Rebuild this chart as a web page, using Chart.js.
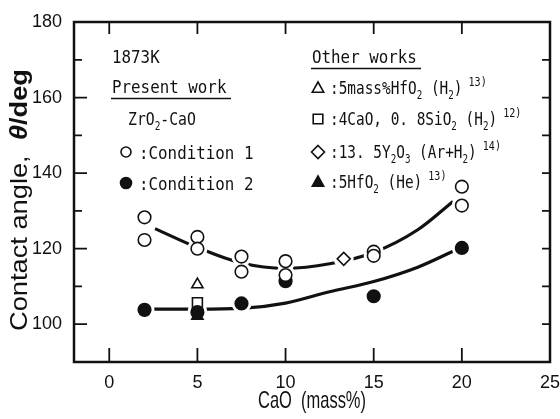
<!DOCTYPE html>
<html><head><meta charset="utf-8">
<script src="https://cdn.jsdelivr.net/npm/chart.js@4/dist/chart.umd.min.js"></script>
<style>html,body{margin:0;padding:0;background:#fff}</style>
</head><body>
<canvas id="c" width="560" height="419" style="width:560px;height:419px;display:block"></canvas>
<script>
// ---- data ----
const xTicks = [0, 5, 10, 15, 20, 25];
const yTicks = [100, 120, 140, 160, 180];
const yAllTicks = [100, 110, 120, 130, 140, 150, 160, 170];
const xMarkTicks = [0, 5, 10, 15, 20];

const cond1X = [2, 2, 5, 5, 7.5, 7.5, 10, 10, 15, 15, 20, 20];
const cond1Y = [128.3, 122.3, 123.1, 120.0, 117.9, 113.9, 116.7, 113.0, 119.2, 118.1, 136.4, 131.4];
const cond2X = [2, 5, 7.5, 10, 15, 20];
const cond2Y = [103.8, 103.2, 105.5, 111.4, 107.4, 120.2];
const hfo2H2X = [5], hfo2H2Y = [110.5];
const caoSio2X = [5], caoSio2Y = [105.7];
const y2o3X = [13.3], y2o3Y = [117.3];
const hfo2HeX = [5], hfo2HeY = [102.2];

const upperCurveX = [2.6, 5, 7.5, 10, 12.5, 15, 17.5, 19.5];
const upperCurveY = [125.3, 120.3, 116.2, 114.8, 116.0, 119.0, 125.0, 132.5];
const lowerCurveX = [2.5, 5, 7.5, 10, 12.5, 15, 17.5, 19.5];
const lowerCurveY = [104.0, 104.0, 104.2, 105.6, 108.6, 111.3, 115.1, 119.3];

const pts = (xs, ys) => xs.map((x, i) => ({x, y: ys[i]}));
const allMarkers = [].concat(pts(cond1X, cond1Y), pts(cond2X, cond2Y), pts(hfo2H2X, hfo2H2Y),
  pts(caoSio2X, caoSio2Y), pts(y2o3X, y2o3Y), pts(hfo2HeX, hfo2HeY));

const MONO = "'DejaVu Sans Mono',monospace";
const SANS = "'Liberation Sans','DejaVu Sans',sans-serif";
const INK = '#111';

function marker(style, fill, r) {
  return {showLine: false, pointStyle: style, pointRadius: r, pointHoverRadius: r,
    pointBackgroundColor: fill ? INK : '#fff', pointBorderColor: INK, pointBorderWidth: 1.6,
    borderColor: INK, backgroundColor: INK, order: 0};
}

function rich(ctx, segs, x, y, size, sx, font) {
  ctx.save(); ctx.translate(x, y); ctx.scale(sx, 1);
  let cx = 0;
  for (const s of segs) {
    let fs = size, dy = 0;
    if (s.v === 'sub') { fs = size * 0.64; dy = size * 0.28; }
    else if (s.v === 'sup') { fs = size * 0.7; dy = -size * 0.42; }
    ctx.font = (s.st || '') + ' ' + fs + 'px ' + (s.f || font || MONO);
    ctx.fillText(s.t, cx, dy);
    cx += ctx.measureText(s.t).width;
  }
  ctx.restore();
}
function richWidth(ctx, segs, size, font) {
  let w = 0;
  for (const s of segs) {
    const fs = s.v === 'sub' ? size * 0.64 : s.v === 'sup' ? size * 0.7 : size;
    ctx.font = (s.st || '') + ' ' + fs + 'px ' + (s.f || font || MONO);
    w += ctx.measureText(s.t).width;
  }
  return w;
}
function drawSym(ctx, type, x, y, r, fill) {
  ctx.save(); ctx.beginPath(); ctx.lineWidth = 1.6; ctx.strokeStyle = INK; ctx.fillStyle = fill ? INK : '#fff';
  if (type === 'circle') ctx.arc(x, y, r, 0, Math.PI * 2);
  else if (type === 'triangle') { ctx.moveTo(x, y - r); ctx.lineTo(x + r * 0.95, y + r * 0.7); ctx.lineTo(x - r * 0.95, y + r * 0.7); ctx.closePath(); }
  else if (type === 'rect') ctx.rect(x - r * 0.8, y - r * 0.8, r * 1.6, r * 1.6);
  else if (type === 'diamond') { ctx.moveTo(x, y - r); ctx.lineTo(x + r, y); ctx.lineTo(x, y + r); ctx.lineTo(x - r, y); ctx.closePath(); }
  ctx.fill(); ctx.stroke(); ctx.restore();
}

const decor = {
  id: 'decor',
  beforeDatasetsDraw(chart) {
    const {ctx, chartArea: a, scales: {x, y}} = chart;
    ctx.save();
    ctx.strokeStyle = INK; ctx.lineWidth = 2.5;
    ctx.strokeRect(a.left, a.top, a.right - a.left, a.bottom - a.top);
    ctx.lineWidth = 1.8;
    ctx.beginPath();
    for (const v of yAllTicks) {
      const py = y.getPixelForValue(v);
      const len = yTicks.includes(v) ? 13 : 8;
      ctx.moveTo(a.left, py); ctx.lineTo(a.left + len, py);
      ctx.moveTo(a.right, py); ctx.lineTo(a.right - 8, py);
    }
    for (const v of xMarkTicks) {
      const px = x.getPixelForValue(v);
      ctx.moveTo(px, a.bottom); ctx.lineTo(px, a.bottom - 14);
      ctx.moveTo(px, a.top); ctx.lineTo(px, a.top + 12);
    }
    ctx.stroke();
    ctx.restore();
  },
  afterDraw(chart) {
    const {ctx, chartArea: a} = chart;
    ctx.save();
    ctx.fillStyle = INK; ctx.strokeStyle = INK; ctx.textBaseline = 'alphabetic';
    const S = 18, SX = 0.88;
    // left block
    rich(ctx, [{t: '1873K'}], 112, 63, S, SX);
    rich(ctx, [{t: 'Present work'}], 112, 93, S, SX);
    ctx.lineWidth = 1.6; ctx.beginPath(); ctx.moveTo(111, 98.5); ctx.lineTo(231, 98.5); ctx.stroke();
    rich(ctx, [{t: 'ZrO'}, {t: '2', v: 'sub'}, {t: '-CaO'}], 128, 125, S, 0.82);
    drawSym(ctx, 'circle', 126, 152, 5, false);
    rich(ctx, [{t: ':Condition 1'}], 139, 158.5, S, SX);
    drawSym(ctx, 'circle', 126, 183, 5.5, true);
    rich(ctx, [{t: ':Condition 2'}], 139, 189.5, S, SX);
    // right block
    rich(ctx, [{t: 'Other works'}], 312, 63, S, SX);
    ctx.beginPath(); ctx.moveTo(311, 68.5); ctx.lineTo(421, 68.5); ctx.stroke();
    const RX = 0.8;
    drawSym(ctx, 'triangle', 318, 88, 6, false);
    rich(ctx, [{t: ':5mass%HfO'}, {t: '2', v: 'sub'}, {t: ' (H'}, {t: '2', v: 'sub'}, {t: ')'}, {t: ' 13)', v: 'sup'}], 330, 94, S, RX);
    drawSym(ctx, 'rect', 318, 119, 6, false);
    rich(ctx, [{t: ':4CaO, 0. 8SiO'}, {t: '2', v: 'sub'}, {t: ' (H'}, {t: '2', v: 'sub'}, {t: ')'}, {t: ' 12)', v: 'sup'}], 330, 125, S, RX);
    drawSym(ctx, 'diamond', 318, 152, 6.5, false);
    rich(ctx, [{t: ':13. 5Y'}, {t: '2', v: 'sub'}, {t: 'O'}, {t: '3', v: 'sub'}, {t: ' (Ar+H'}, {t: '2', v: 'sub'}, {t: ')'}, {t: ' 14)', v: 'sup'}], 330, 158, S, RX);
    drawSym(ctx, 'triangle', 318, 182, 6, true);
    rich(ctx, [{t: ':5HfO'}, {t: '2', v: 'sub'}, {t: ' (He)'}, {t: ' 13)', v: 'sup'}], 330, 188, S, RX);

    // x title
    const xt = [{t: 'CaO  (mass%)'}];
    const xs = 24;
    const xw = richWidth(ctx, xt, xs, SANS);
    rich(ctx, xt, (a.left + a.right) / 2 - 54, 408, xs, 108 / xw, SANS);

    // y title (rotated)
    const yt = [{t: 'Contact angle,  ', f: SANS}, {t: 'θ', st: 'italic bold', f: SANS}, {t: '/deg', st: 'bold', f: SANS}];
    const ys = 24;
    const yw = richWidth(ctx, yt, ys, SANS);
    ctx.save();
    ctx.translate(27, 331);
    ctx.rotate(-Math.PI / 2);
    rich(ctx, yt, 0, 0, ys, 262 / yw, SANS);
    ctx.restore();
    ctx.restore();
  }
};

new Chart(document.getElementById('c'), {
  type: 'line',
  data: {
    datasets: [
      Object.assign({label: 'Condition 1', data: pts(cond1X, cond1Y)}, marker('circle', false, 6.3)),
      Object.assign({label: 'Condition 2', data: pts(cond2X, cond2Y)}, marker('circle', true, 6.3)),
      Object.assign({label: '5mass%HfO2 (H2)', data: pts(hfo2H2X, hfo2H2Y)}, marker('triangle', false, 6.5)),
      Object.assign({label: '4CaO, 0.8SiO2 (H2)', data: pts(caoSio2X, caoSio2Y)}, marker('rect', false, 7)),
      Object.assign({label: '13.5Y2O3 (Ar+H2)', data: pts(y2o3X, y2o3Y)}, marker('rectRot', false, 6.5)),
      Object.assign({label: '5HfO2 (He)', data: pts(hfo2HeX, hfo2HeY)}, marker('triangle', true, 6.5)),
      {label: 'halo', data: allMarkers, showLine: false, pointRadius: 10, pointHoverRadius: 10,
        pointBackgroundColor: '#fff', pointBorderWidth: 0, pointBorderColor: '#fff', order: 1},
      {label: 'fit1', data: pts(upperCurveX, upperCurveY), borderColor: INK, borderWidth: 3.2,
        pointRadius: 0, cubicInterpolationMode: 'monotone', fill: false, order: 2},
      {label: 'fit2', data: pts(lowerCurveX, lowerCurveY), borderColor: INK, borderWidth: 3.2,
        pointRadius: 0, cubicInterpolationMode: 'monotone', fill: false, order: 2}
    ]
  },
  options: {
    responsive: false, animation: false, devicePixelRatio: 1,
    layout: {padding: {top: 22, right: 7, left: 0, bottom: 0}},
    plugins: {legend: {display: false}, tooltip: {enabled: false}},
    events: [],
    scales: {
      x: {type: 'linear', min: -2, max: 25,
        afterBuildTicks: s => { s.ticks = xTicks.map(v => ({value: v})); },
        afterFit: s => { s.height = 57; s.paddingLeft = 0; s.paddingRight = 0; },
        grid: {display: false}, border: {display: false},
        ticks: {color: INK, padding: 2, maxRotation: 0, autoSkip: false, font: {family: SANS, size: 18}}},
      y: {type: 'linear', min: 90, max: 180,
        afterBuildTicks: s => { s.ticks = yTicks.map(v => ({value: v})); },
        afterFit: s => { s.width = 74; s.paddingTop = 0; s.paddingBottom = 0; },
        grid: {display: false}, border: {display: false},
        ticks: {color: INK, padding: 4, autoSkip: false, font: {family: SANS, size: 18}}}
    }
  },
  plugins: [decor]
});
</script>
</body></html>
